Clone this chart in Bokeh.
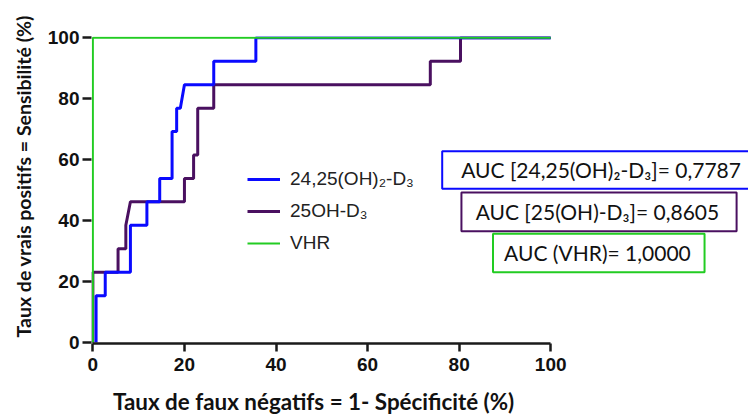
from bokeh.plotting import figure
from bokeh.models import (Range1d, FixedTicker, Legend, LegendItem, BoxAnnotation, Label, Title)
from bokeh.embed import file_html
from bokeh.resources import INLINE

# ROC curves (x = 100 - specificity, y = sensitivity), in %
d24_x = [0.7, 0.7, 2.7, 2.7, 8.2, 8.2, 11.8, 11.8, 14.6, 14.6, 17.3, 17.3, 18.3, 18.3, 19.1, 20.0, 26.4, 26.4, 35.6, 35.6, 100]
d24_y = [0, 15.4, 15.4, 23.1, 23.1, 38.5, 38.5, 46.2, 46.2, 53.8, 53.8, 69.2, 69.2, 76.9, 76.9, 84.6, 84.6, 92.3, 92.3, 100, 100]

d25_x = [0, 0, 5.5, 5.5, 7.2, 7.2, 8.2, 20.0, 20.0, 22.0, 22.0, 22.9, 22.9, 26.4, 26.4, 73.7, 73.7, 80.3, 80.3, 100]
d25_y = [0, 23.1, 23.1, 30.8, 30.8, 38.5, 46.2, 46.2, 53.8, 53.8, 61.5, 61.5, 76.9, 76.9, 84.6, 84.6, 92.3, 92.3, 100, 100]

vhr_x = [0, 0, 100]
vhr_y = [0, 100, 100]

series_names = ["24,25(OH)\u2082-D\u2083", "25OH-D\u2083", "VHR"]
auc_labels = ["AUC [24,25(OH)\u2082-D\u2083]", "AUC [25(OH)-D\u2083]", "AUC (VHR)"]
auc_values = [0.7787, 0.8605, 1.0000]
ticks = [0, 20, 40, 60, 80, 100]
x_title = "Taux de faux n\u00e9gatifs = 1- Sp\u00e9cificit\u00e9 (%)"
y_title = "Taux de vrais positifs = Sensibilit\u00e9 (%)"

BLUE = "#0a0aff"
PURPLE = "#4a1060"
GREEN = "#22cc22"

p = figure(width=748, height=417, output_backend="svg", toolbar_location=None,
           x_range=Range1d(-0.3, 143.2), y_range=Range1d(-0.3, 100.4),
           min_border_left=91, min_border_right=0, min_border_top=36, min_border_bottom=74)
p.outline_line_color = None
p.grid.visible = False
p.background_fill_color = "white"

for ax in (p.xaxis[0], p.yaxis[0]):
    ax.ticker = FixedTicker(ticks=ticks)
    ax.bounds = (0, 100)
    ax.axis_line_width = 2.5
    ax.axis_line_color = "#1a1a1a"
    ax.major_tick_line_width = 2.5
    ax.major_tick_line_color = "#1a1a1a"
    ax.major_tick_in = 0
    ax.minor_tick_line_color = None
    ax.major_label_text_font = "Liberation Sans"
    ax.major_label_text_font_style = "bold"
    ax.major_label_text_font_size = "19px"
    ax.major_label_text_color = "#111111"

xa = p.xaxis[0]
xa.major_tick_out = 8
xa.major_label_standoff = 6
p.yaxis[0].major_tick_out = 9
p.yaxis[0].major_label_standoff = 3
p.yaxis[0].axis_line_color = None  # covered by the VHR line in the reference

# x axis title: the frame is wide (it holds the AUC boxes), so trailing
# em/en spaces shift the centred label left, under the 0-100 axis as in the reference
xa.axis_label = x_title + "\u2003" * 12 + "\u2002"
xa.axis_label_standoff = 14
xa.axis_label_text_font = "Lato"
xa.axis_label_text_font_style = "bold"
xa.axis_label_text_font_size = "22.4px"
xa.axis_label_text_color = "#111111"

# y axis title
p.add_layout(Title(text=y_title, align="left", offset=6, vertical_align="middle", standoff=18,
                   text_font="Lato", text_font_style="bold", text_font_size="19.5px",
                   text_color="#111111"), "left")

r25 = p.line(d25_x, d25_y, line_color=PURPLE, line_width=3)
r24 = p.line(d24_x, d24_y, line_color=BLUE, line_width=3)
rv = p.line(vhr_x, vhr_y, line_color=GREEN, line_width=2)

legend = Legend(items=[LegendItem(label=series_names[0], renderers=[r24]),
                       LegendItem(label=series_names[1], renderers=[r25]),
                       LegendItem(label=series_names[2], renderers=[rv])],
                location=(156, 88), padding=0, margin=0, spacing=8,
                glyph_width=33, glyph_height=24, label_height=24, label_standoff=10,
                label_text_font="Liberation Sans", label_text_font_size="19px",
                label_text_color="#222222",
                border_line_color=None, background_fill_alpha=0)
p.add_layout(legend, "center")

# AUC boxes (layout in data units of the frame)
box_colors = [BLUE, PURPLE, GREEN]
box_lrtb = [(76.3, 150.0, 62.8, 50.5), (80.5, 140.6, 49.2, 36.5), (87.4, 133.6, 35.7, 23.1)]
label_cx = [111.0, 110.2, 110.2]
for i in range(3):
    l, r, t, b = box_lrtb[i]
    p.add_layout(BoxAnnotation(left=l, right=r, top=t, bottom=b, fill_color="white", fill_alpha=1,
                               line_color=box_colors[i], line_width=2, line_alpha=1, level="overlay"))
    txt = "%s= %s" % (auc_labels[i], ("%.4f" % auc_values[i]).replace(".", ","))
    p.add_layout(Label(x=label_cx[i], y=(t + b) / 2, text=txt, text_align="center",
                       text_baseline="middle", text_font="Lato", text_font_size="21px",
                       text_color="#111111", level="overlay"))

open("out.html", "w").write(file_html(p, INLINE))
